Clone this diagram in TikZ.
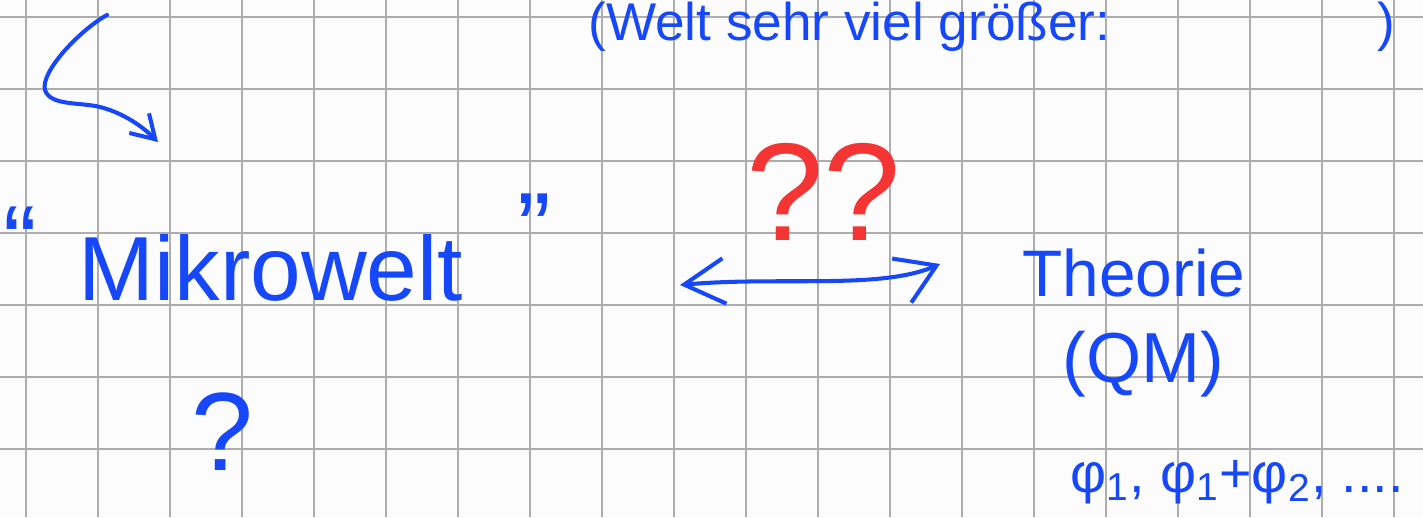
\documentclass[tikz,border=0pt]{standalone}
\usepackage{fontspec}
\setmainfont{Liberation Sans}
\usepackage{xcolor}
\usepackage{tikz}
\usetikzlibrary{arrows.meta}
\definecolor{tinte}{RGB}{22,72,250}
\definecolor{rotstift}{RGB}{245,52,52}
\definecolor{papier}{RGB}{252,252,252}

\begin{document}
\begin{tikzpicture}[
  x=0.39526pt, y=-0.39526pt,
  every node/.style={inner sep=0pt, text=tinte},
  gitter/.style={draw=black!32, line width=0.9pt},
  hand/.style={font=\fontsize{28}{32}\selectfont},
  arr/.style={draw=tinte, line width=1.6pt, line cap=round, line join=round}
]
\fill[papier] (0,0) rectangle (1423,517);
\useasboundingbox (0,0) rectangle (1423,517);
\clip (0,0) rectangle (1423,517);
\foreach \gx in {26,98,...,1394} \draw[gitter] (\gx,0) -- (\gx,517);
\foreach \gy in {17,89,...,449} \draw[gitter] (0,\gy) -- (1423,\gy);

\node[hand, font=\fontsize{21}{24}\selectfont, anchor=base west] (oben) at (588,40)
  {\makebox[319pt][l]{(Welt sehr viel größer:\hfill)}};
\node[hand, font=\fontsize{40}{44}\selectfont, anchor=base] (qauf) at (20,276) {“};
\node[hand, font=\fontsize{40}{44}\selectfont, anchor=base] (qzu) at (534,263) {”};
\node[hand, font=\fontsize{36}{40}\selectfont, anchor=base west] (mikro) at (78,300) {Mikrowelt};
\node[hand, font=\fontsize{44}{48}\selectfont, anchor=base] (frage) at (222,470) {?};
\node[hand, font=\fontsize{55}{60}\selectfont, anchor=base, text=rotstift] (fragen) at (824,240) {??};
\node[hand, font=\fontsize{26}{30}\selectfont, anchor=base west] (theorie) at (1022,296) {Theorie};
\node[hand, anchor=base west] (qm) at (1062,382) {(QM)};
\node[hand, font=\fontsize{22}{26}\selectfont, anchor=base west] (zustand) at (1070,492)
  {φ\textsubscript{1}, φ\textsubscript{1}+φ\textsubscript{2}, ....};

\coordinate (hakenA) at (107,15);
\coordinate (hakenB) at (158,142);
\coordinate (pfeilL) at (680,285);
\coordinate (pfeilR) at (940,264);
\draw[arr, -{Straight Barb[length=9pt,width=11pt]}] (hakenA) .. controls (80,30) and (40,72) .. (45,90)
  .. controls (50,106) and (80,102) .. (100,107) .. controls (120,112) and (140,124) .. (hakenB);
\draw[arr, {Straight Barb[length=16pt,width=18pt]}-{Straight Barb[length=15pt,width=19pt]}]
  (pfeilL) .. controls (780,276) and (880,290) .. (pfeilR);
\end{tikzpicture}
\end{document}
